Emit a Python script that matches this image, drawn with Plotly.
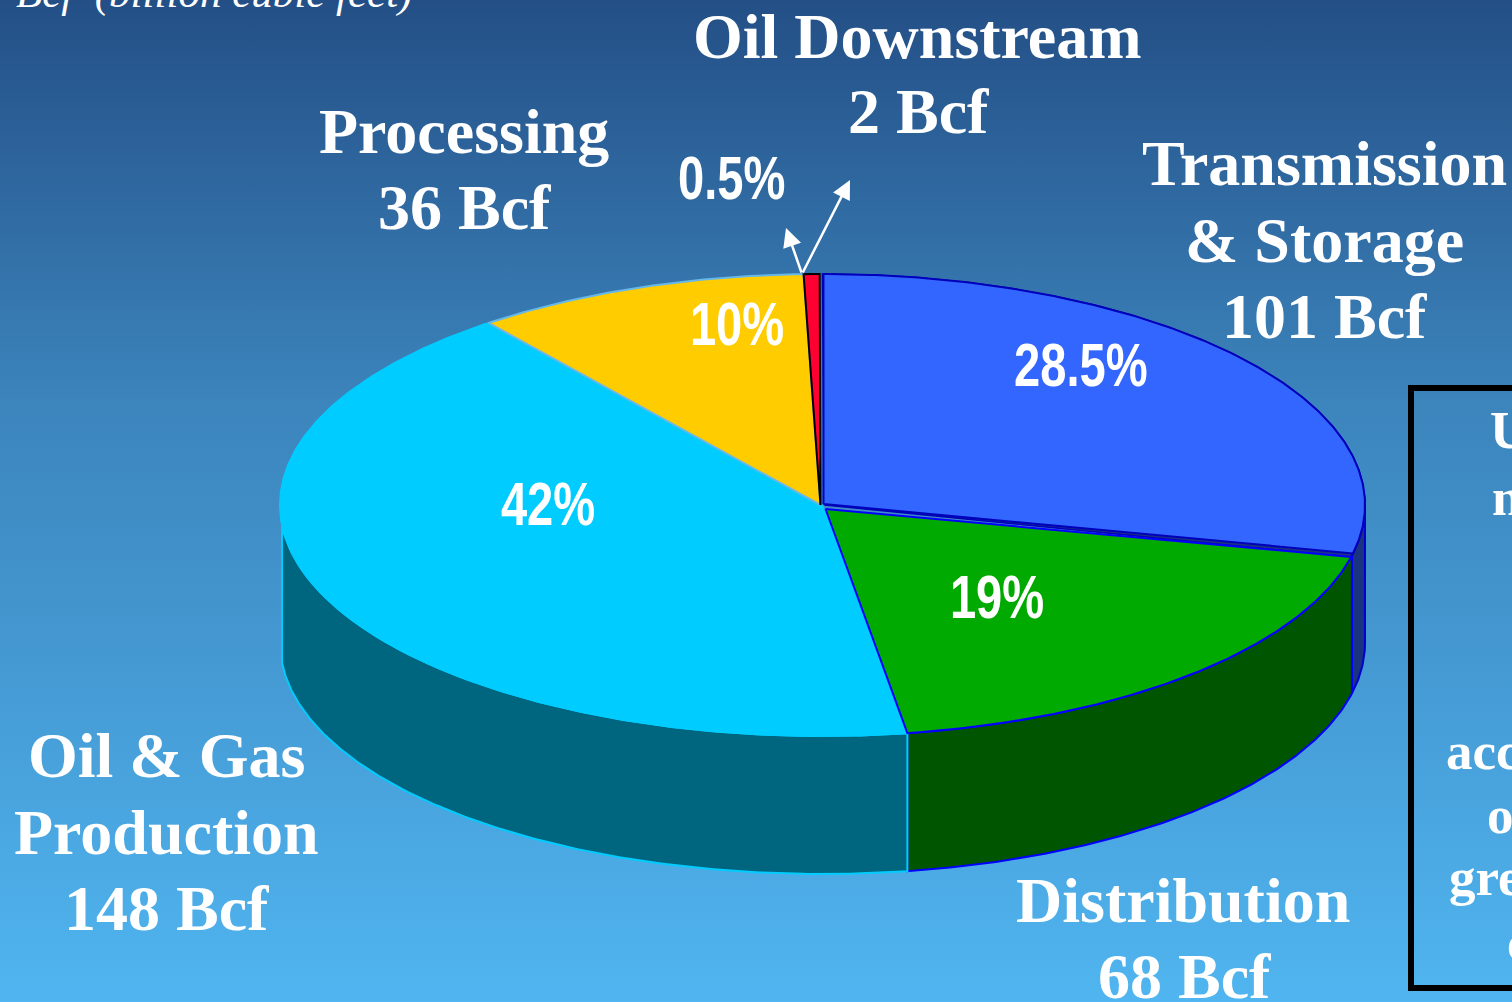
import numpy as np
import plotly.graph_objects as go

# ---- data ----
categories = ["Transmission & Storage", "Distribution", "Oil & Gas Production", "Processing", "Oil Downstream"]
percents = [28.5, 19, 42, 10, 0.5]
bcf = [101, 68, 148, 36, 2]
percent_labels = ["28.5%", "19%", "42%", "10%", "0.5%"]

# ---- style ----
W, H = 1512, 1002
CX, CY, RX, RY, DEPTH = 822.5, 505.0, 542.5, 231.0, 138.0
top_colors = ["#3366ff", "#00aa00", "#00ccff", "#ffcc00", "#ff0033"]
top_lines = ["#0000bb", "#0000ff", "#00ccff", "#66b8e8", "#000000"]
side_colors = ["#1a3380", "#005500", "#006680"]
side_lines = ["#0000cc", "#0000ff", "#00ccff"]
SERIF = "Liberation Serif"
SANS = "Liberation Sans"

def rim(t0, t1, dy=0.0):
    t = np.radians(np.linspace(t0, t1, max(int(abs(t1 - t0) * 2), 2)))
    return CX + RX * np.sin(t), CY - RY * np.cos(t) + dy

def wedge(t0, t1, apex=(CX, CY)):
    x, y = rim(t0, t1)
    return np.r_[apex[0], x, apex[0]], np.r_[apex[1], y, apex[1]]

def side(t0, t1):
    x, y = rim(t0, t1)
    xb, yb = rim(t0, t1, DEPTH)
    return np.r_[x, xb[::-1], x[0]], np.r_[y, yb[::-1], y[0]]

edges = np.cumsum([0] + percents) * 3.6

fig = go.Figure()
# background gradient
fig.add_trace(go.Scatter(
    x=[0, W, W, 0, 0], y=[0, 0, H, H, 0], mode="lines", line=dict(width=0),
    fill="toself", hoverinfo="skip",
    fillgradient=dict(type="vertical", start=0, stop=H,
                      colorscale=[[0, "#234f86"], [0.4, "#3c84bc"], [1, "#50b5f0"]])))

# visible walls
clip = [(90, edges[1]), (edges[1], edges[2]), (edges[2], 265)]
for (a, b), c, l in zip(clip, side_colors, side_lines):
    x, y = side(a, b)
    fig.add_trace(go.Scatter(x=x, y=y, mode="lines", fill="toself", fillcolor=c,
                             line=dict(color=l, width=2), hoverinfo="skip"))

# dark band beneath the blue slice
x, y = wedge(edges[0], edges[1] + 0.5, (CX + 2, CY))
fig.add_trace(go.Scatter(x=x, y=y, mode="lines", fill="toself", fillcolor="#1a3380",
                         line=dict(color="#0000bb", width=1.5), hoverinfo="skip"))

# top faces
apexes = [(CX + 1, CY - 1), (CX + 3, CY + 4), (CX, CY + 1), (CX - 2, CY), (CX - 2, CY)]
trim = [(0.1, -0.5), (0.4, 0.0), (0.0, -0.2), (-0.2, -0.2), (-0.2, -0.3)]
order = [2, 3, 4, 0, 1]
for i in order:
    a, b = edges[i] + trim[i][0], edges[i + 1] + trim[i][1]
    x, y = wedge(a, b, apexes[i])
    fig.add_trace(go.Scatter(x=x, y=y, mode="lines", fill="toself", fillcolor=top_colors[i],
                             line=dict(color=top_lines[i], width=2), hoverinfo="skip"))

# right-hand box, running off the slide
fig.add_shape(type="rect", x0=1411, y0=388, x1=1700, y1=988,
              line=dict(color="#000000", width=6), fillcolor="rgba(0,0,0,0)")

def note(text, x, y, size, font=SERIF, bold=True, xanchor="center", yanchor="middle", italic=False):
    s = f"<b>{text}</b>" if bold else text
    if italic:
        s = f"<i>{s}</i>"
    fig.add_annotation(x=x, y=y, text=s, showarrow=False, xanchor=xanchor, yanchor=yanchor,
                       font=dict(family=font, size=size, color="#ffffff"), borderpad=0, borderwidth=0)

# category labels
cat_lines = [
    [("Transmission", 1324, 163), ("& Storage", 1324, 240), (f"{bcf[0]} Bcf", 1324, 316)],
    [("Distribution", 1183, 900), (f"{bcf[1]} Bcf", 1184, 976)],
    [("Oil &amp; Gas", 166, 755), ("Production", 166, 832), (f"{bcf[2]} Bcf", 166, 908)],
    [("Processing", 464, 131), (f"{bcf[3]} Bcf", 464, 207)],
    [("Oil Downstream", 917, 36), (f"{bcf[4]} Bcf", 918, 111)],
]
for lines in cat_lines:
    for t, x, y in lines:
        note(t, x, y, 64)

# percent labels (condensed by the page script below)
pct_pos = [(1081, 364), (997, 596), (548, 503), (737, 323), (731, 177)]
for t, (x, y) in zip(percent_labels, pct_pos):
    note(t, x, y, 62, font=SANS)

# clipped text in the box and the clipped header
box_lines = [("U", 1490, 430), ("n", 1492, 497), ("acc", 1446, 751), ("o", 1487, 815), ("gre", 1449, 877), ("c", 1507, 942)]
for t, x, y in box_lines:
    note(t, x, y, 53, xanchor="left")
note("Bcf  (billion cubic feet)", 16, 17, 43, bold=False, italic=True, xanchor="left", yanchor="bottom")

# arrows
for tip in [(850, 180), (786, 228)]:
    fig.add_annotation(x=tip[0], y=tip[1], ax=802, ay=274, axref="x", ayref="y", text="",
                       showarrow=True, arrowhead=2, arrowsize=1.5, arrowwidth=2.5, arrowcolor="#ffffff")

fig.update_layout(
    width=W, height=H, margin=dict(l=0, r=0, t=0, b=0), showlegend=False,
    paper_bgcolor="#3c84bc", plot_bgcolor="rgba(0,0,0,0)", hovermode=False,
    xaxis=dict(range=[0, W], visible=False, fixedrange=True),
    yaxis=dict(range=[H, 0], visible=False, fixedrange=True),
)
squeeze = """
document.body.style.margin='0';
document.documentElement.style.overflow='hidden';
document.querySelectorAll('.annotation-text').forEach(function(t){
  if(t.textContent.indexOf('%')<0) return;
  var b=t.getBBox(), c=b.x+b.width/2;
  t.setAttribute('transform','translate('+c+' 0) scale(0.76 1) translate('+(-c)+' 0)');
});
"""
fig.write_html("out.html", config=dict(displayModeBar=False), post_script=squeeze)
